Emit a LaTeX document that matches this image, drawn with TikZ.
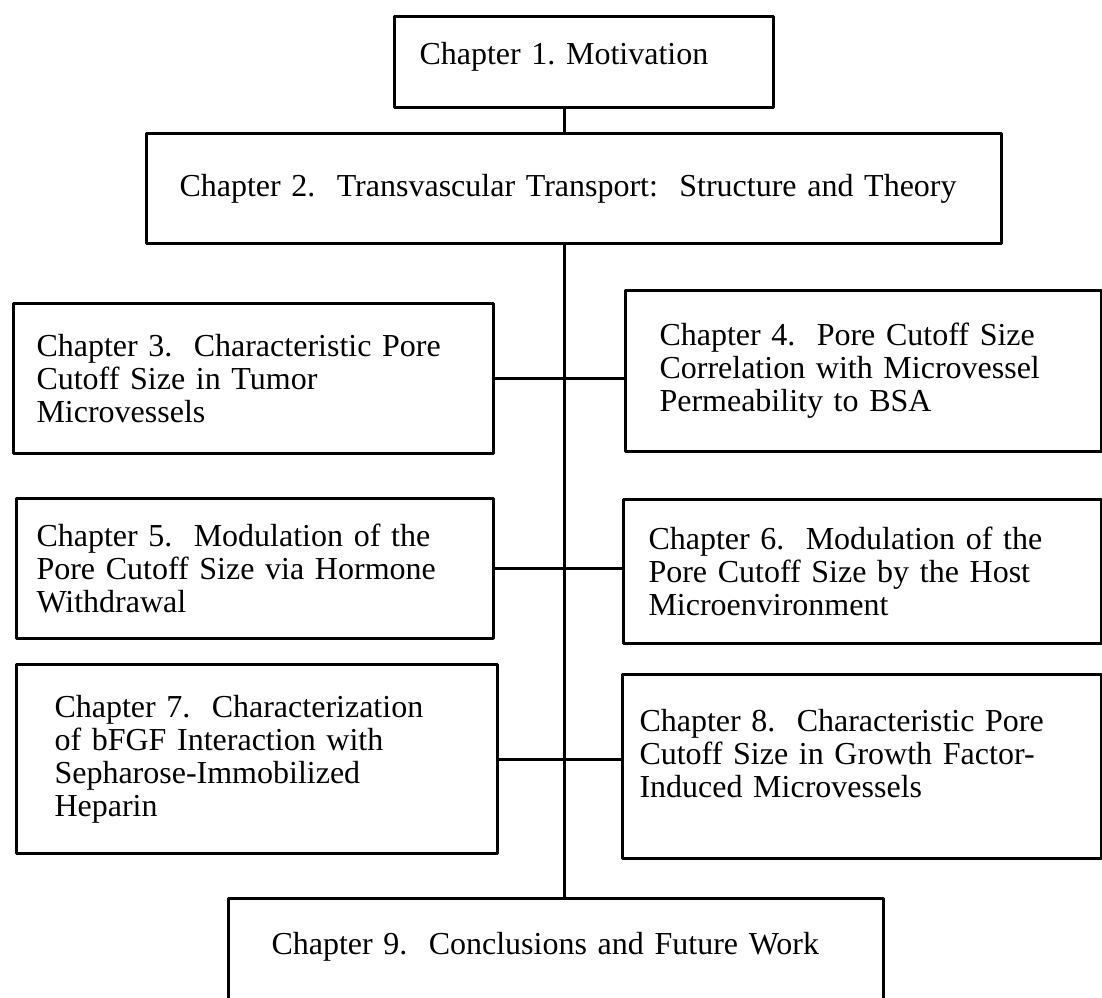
\documentclass[tikz,border=0pt]{standalone}
\usepackage{fontspec}
\setmainfont{Liberation Serif}
\begin{document}
\frenchspacing
\begin{tikzpicture}[x=1pt, y=-1pt, line width=3pt, line join=round,
  font=\fontsize{32}{33}\selectfont,
  chapbox/.style={draw, anchor=north west, align=left, inner ysep=0pt}]
\clip (0,0) rectangle (1102,997);
\coordinate (spine) at (564,0);
\node[chapbox, minimum width=379pt, minimum height=91pt, inner xsep=25pt, text width=329pt, text depth=18pt] (c1) at (393,15) {Chapter 1. Motivation};
\node[chapbox, minimum width=855pt, minimum height=110pt, inner xsep=33pt, text width=789pt] (c2) at (145,132) {Chapter 2.\ \ Transvascular Transport:\ \ Structure and Theory};
\node[chapbox, minimum width=480pt, minimum height=150pt, inner xsep=23pt, text width=434pt] (c3) at (12,302) {Chapter 3.\ \ Characteristic Pore\\Cutoff Size in Tumor\\Microvessels};
\node[chapbox, minimum width=476pt, minimum height=161pt, inner xsep=34pt, text width=408pt] (c4) at (624,289) {Chapter 4.\ \ Pore Cutoff Size\\Correlation with Microvessel\\Permeability to BSA};
\node[chapbox, minimum width=477pt, minimum height=140pt, inner xsep=20pt, text width=437pt] (c5) at (15,497) {Chapter 5.\ \ Modulation of the\\Pore Cutoff Size via Hormone\\Withdrawal};
\node[chapbox, minimum width=478pt, minimum height=144pt, inner xsep=25pt, text width=428pt] (c6) at (622,498) {Chapter 6.\ \ Modulation of the\\Pore Cutoff Size by the Host\\Microenvironment};
\node[chapbox, minimum width=481pt, minimum height=189pt, inner xsep=38pt, text width=405pt] (c7) at (15,663) {Chapter 7.\ \ Characterization\\of bFGF Interaction with\\Sepharose-Immobilized\\Heparin};
\node[chapbox, minimum width=479pt, minimum height=184pt, inner xsep=17pt, text width=445pt, text depth=92pt] (c8) at (621,673) {Chapter 8.\ \ Characteristic Pore\\Cutoff Size in Growth Factor-\\Induced Microvessels};
\node[anchor=north west, align=left, inner ysep=0pt, minimum width=652pt, minimum height=94pt, inner xsep=42pt, text width=568pt] (c9) at (228,898) {Chapter 9.\ \ Conclusions and Future Work};
\draw ([yshift=-10pt]c9.south west) -- (c9.north west) -- (c9.north east) -- ([yshift=-10pt]c9.south east);
\draw (c1.south -| spine) -- (c2.north -| spine);
\draw (c2.south -| spine) -- (c9.north -| spine);
\draw (c3.east) -- (c4.west |- c3.east);
\draw (c5.east) -- (c6.west |- c5.east);
\draw (c7.east) -- (c8.west |- c7.east);
\end{tikzpicture}
\end{document}
